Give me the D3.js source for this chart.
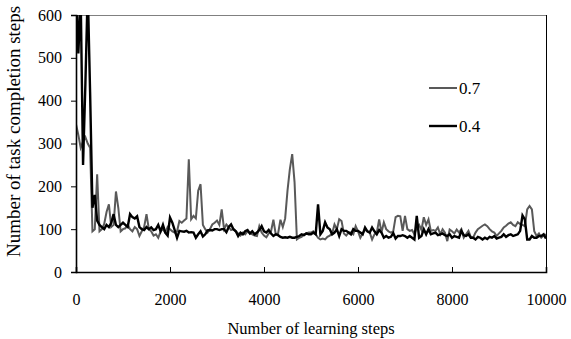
<!DOCTYPE html>
<html>
<head>
<meta charset="utf-8">
<script src="https://cdn.jsdelivr.net/npm/d3@7"></script>
<style>
  body { margin: 0; background: #fff; }
  svg { display: block; font-family: "Liberation Serif", "Times New Roman", serif; }
</style>
</head>
<body>
<div id="chart"></div>
<script>
// data: one value every 50 learning steps
const stepSize = 50;
const seriesNames = ["0.7", "0.4"];
const xTicks = [0, 2000, 4000, 6000, 8000, 10000];
const yTicks = [0, 100, 200, 300, 400, 500, 600];

const values07 = [
  345, 320, 290, 305, 315, 300, 290, 95, 100, 228,
  95, 100, 112, 140, 158, 105, 110, 188, 150, 95,
  100, 102, 111, 100, 95, 105, 100, 84, 95, 105,
  135, 100, 95, 85, 88, 80, 95, 100, 92, 105,
  100, 95, 92, 95, 119, 115, 120, 125, 263, 123,
  131, 125, 190, 205, 110, 100, 92, 100, 111, 115,
  120, 110, 146, 100, 111, 105, 98, 100, 95, 90,
  85, 92, 88, 95, 90, 88, 85, 84, 107, 92,
  85, 81, 90, 95, 122, 88, 90, 122, 105, 125,
  190, 240, 275, 210, 76, 80, 82, 88, 90, 92,
  92, 95, 88, 80, 76, 78, 76, 82, 85, 90,
  111, 100, 123, 119, 90, 85, 92, 92, 88, 107,
  95, 80, 90, 99, 95, 92, 76, 88, 92, 123,
  92, 116, 100, 95, 92, 95, 128, 131, 130, 96,
  131, 100, 96, 98, 88, 104, 110, 98, 128, 110,
  123, 96, 98, 96, 104, 88, 100, 92, 72, 99,
  95, 90, 99, 92, 100, 80, 88, 96, 82, 80,
  92, 100, 104, 108, 111, 107, 100, 95, 92, 84,
  90, 96, 104, 108, 113, 116, 110, 107, 116, 112,
  110, 107, 146, 154, 146, 95, 84, 90, 80, 85,
  88
];

const values04 = [
  680, 510, 640, 250, 440, 660, 420, 150, 180, 120,
  110, 105, 100, 110, 105, 115, 135, 110, 105, 110,
  115, 110, 105, 135, 128, 125, 130, 105, 100, 98,
  105, 100, 104, 98, 100, 110, 95, 110, 92, 85,
  127, 115, 98, 80, 96, 95, 94, 96, 92, 93,
  92, 80, 88, 95, 83, 88, 97, 98, 97, 100,
  100, 98, 100, 100, 93, 105, 111, 100, 95, 84,
  92, 88, 95, 98, 90, 95, 88, 92, 98, 107,
  95, 92, 98, 90, 84, 88, 86, 82, 80, 81,
  80, 82, 80, 80, 82, 84, 88, 86, 90, 88,
  88, 92, 88, 158, 88, 96, 116, 104, 100, 88,
  92, 100, 84, 100, 96, 96, 92, 88, 100, 96,
  96, 92, 88, 104, 95, 92, 104, 95, 88, 98,
  92, 80, 84, 80, 82, 91, 78, 84, 84, 86,
  84, 80, 84, 80, 76, 131, 80, 84, 100, 88,
  100, 88, 90, 92, 86, 88, 90, 86, 84, 88,
  80, 84, 82, 80, 96, 86, 84, 88, 80, 80,
  76, 82, 80, 76, 80, 77, 82, 80, 84, 78,
  80, 82, 88, 82, 86, 88, 84, 86, 88, 96,
  132, 123, 76, 76, 84, 80, 80, 84, 84, 88,
  78
];

const cfg = {
  width: 571,
  height: 339,
  margin: { left: 76, right: 25, top: 15, bottom: 67 }
};

const serif = "Liberation Serif";
const colors = { "0.7": "#595959", "0.4": "#000000" };
const widths = { "0.7": 2, "0.4": 2.4 };

function make_chart(where) {
  const data = [
    { name: seriesNames[0], values: values07 },
    { name: seriesNames[1], values: values04 }
  ];

  const xScale = d3.scaleLinear([0, 10000], [cfg.margin.left, cfg.width - cfg.margin.right]);
  const yScale = d3.scaleLinear([0, 600], [cfg.height - cfg.margin.bottom, cfg.margin.top]);

  const line = d3.line()
    .x((d, i) => xScale(i * stepSize))
    .y(d => yScale(d))
    .curve(d3.curveLinear);

  const svg = d3.select(where)
    .append("svg")
    .attr("width", cfg.width)
    .attr("height", cfg.height)
    .attr("font-family", serif);

  svg.append("defs").append("clipPath")
    .attr("id", "plot-clip")
    .append("rect")
    .attr("x", cfg.margin.left)
    .attr("y", cfg.margin.top)
    .attr("width", xScale.range()[1] - cfg.margin.left)
    .attr("height", yScale.range()[0] - cfg.margin.top);

  // frame: gray top, thin black right
  svg.append("line")
    .attr("x1", cfg.margin.left).attr("x2", xScale.range()[1])
    .attr("y1", cfg.margin.top + 0.5).attr("y2", cfg.margin.top + 0.5)
    .style("stroke", "#808080").style("stroke-width", 1.2);
  svg.append("line")
    .attr("x1", xScale.range()[1] + 0.5).attr("x2", xScale.range()[1] + 0.5)
    .attr("y1", cfg.margin.top).attr("y2", yScale.range()[0])
    .style("stroke", "#000").style("stroke-width", 1);

  // the lines
  svg.append("g")
    .attr("class", "lineGroup")
    .attr("clip-path", "url(#plot-clip)")
    .selectAll("path")
    .data(data)
    .join("path")
    .attr("d", d => line(d.values))
    .style("stroke", d => colors[d.name])
    .style("stroke-width", d => widths[d.name])
    .style("stroke-linejoin", "miter")
    .style("fill", "none");

  // x axis, ticks point inward
  const xAxis = d3.axisBottom(xScale).tickValues(xTicks).tickSize(-5).tickPadding(22).tickFormat(d3.format("d"));
  const gx = svg.append("g")
    .attr("class", "x-axis")
    .attr("transform", `translate(0, ${yScale.range()[0]})`)
    .call(xAxis)
    .attr("font-family", serif)
    .attr("font-size", 16);
  gx.select(".domain").style("stroke-width", 1.6);
  gx.selectAll(".tick line").filter(d => d === 0 || d === 10000).remove();

  // y axis, ticks point outward
  const yAxis = d3.axisLeft(yScale).tickValues(yTicks).tickSize(5).tickPadding(9);
  const gy = svg.append("g")
    .attr("class", "y-axis")
    .attr("transform", `translate(${cfg.margin.left}, 0)`)
    .call(yAxis)
    .attr("font-family", serif)
    .attr("font-size", 16);
  gy.select(".domain").style("stroke-width", 1.6);

  // axis titles
  svg.append("text")
    .attr("x", (cfg.margin.left + xScale.range()[1]) / 2)
    .attr("y", 334)
    .attr("text-anchor", "middle")
    .attr("font-size", 16.5)
    .text("Number of learning steps");

  svg.append("text")
    .attr("transform", "translate(20, 257) rotate(-90)")
    .attr("text-anchor", "start")
    .attr("font-size", 19)
    .text("Number of task completion steps");

  // legend
  const legend = svg.append("g")
    .attr("class", "legend")
    .selectAll("g")
    .data(seriesNames)
    .join("g")
    .attr("transform", (d, i) => `translate(429, ${88 + i * 38})`);
  legend.append("line")
    .attr("x1", 0).attr("x2", 28)
    .style("stroke", d => colors[d])
    .style("stroke-width", d => widths[d]);
  legend.append("text")
    .attr("x", 30)
    .attr("dy", "0.35em")
    .attr("font-size", 17)
    .text(d => d);
}

make_chart("#chart");
</script>
</body>
</html>
